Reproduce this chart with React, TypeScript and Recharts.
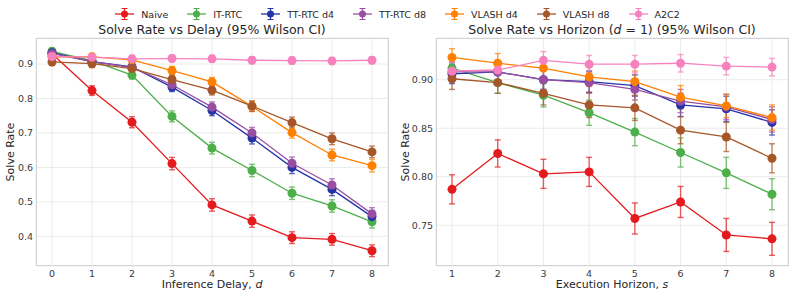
import { LineChart, Line, XAxis, YAxis, CartesianGrid, ErrorBar } from 'recharts';

// method names + colours
const methods = ['Naive', 'IT-RTC', 'TT-RTC d4', 'TT-RTC d8', 'VLASH d4', 'VLASH d8', 'A2C2'];
const keys = ['naive', 'itrtc', 'ttd4', 'ttd8', 'vlashd4', 'vlashd8', 'a2c2'];
const colors = ['#e41a1c', '#4daf4a', '#2532a8', '#984ea3', '#ff7f00', '#a65628', '#f781bf'];

// left panel: solve rate vs inference delay
const delays = [0, 1, 2, 3, 4, 5, 6, 7, 8];
const delayNaive = [0.930, 0.823, 0.731, 0.611, 0.491, 0.444, 0.396, 0.391, 0.358];
const delayItrtc = [0.937, 0.910, 0.868, 0.748, 0.656, 0.591, 0.525, 0.488, 0.442];
const delayTtd4 = [0.933, 0.907, 0.892, 0.833, 0.765, 0.685, 0.600, 0.536, 0.457];
const delayTtd8 = [0.930, 0.907, 0.890, 0.840, 0.775, 0.700, 0.612, 0.549, 0.465];
const delayVlashd4 = [0.921, 0.921, 0.912, 0.881, 0.848, 0.777, 0.701, 0.636, 0.605];
const delayVlashd8 = [0.906, 0.901, 0.887, 0.855, 0.824, 0.778, 0.730, 0.683, 0.645];
const delayA2c2 = [0.922, 0.920, 0.915, 0.916, 0.915, 0.911, 0.910, 0.909, 0.911];

// 95% CI half widths (left)
const delayNaiveErr = [0.009, 0.014, 0.016, 0.018, 0.018, 0.018, 0.017, 0.017, 0.017];
const delayItrtcErr = [0.009, 0.010, 0.012, 0.016, 0.017, 0.018, 0.018, 0.018, 0.018];
const delayTtd4Err = [0.009, 0.010, 0.011, 0.013, 0.015, 0.017, 0.018, 0.018, 0.018];
const delayTtd8Err = [0.009, 0.010, 0.011, 0.013, 0.015, 0.016, 0.018, 0.018, 0.018];
const delayVlashd4Err = [0.010, 0.010, 0.010, 0.012, 0.013, 0.015, 0.016, 0.017, 0.018];
const delayVlashd8Err = [0.010, 0.011, 0.011, 0.013, 0.014, 0.015, 0.016, 0.017, 0.017];
const delayA2c2Err = [0.009, 0.009, 0.010, 0.010, 0.010, 0.010, 0.010, 0.010, 0.010];

// right panel: solve rate vs execution horizon (d = 1)
const horizons = [1, 2, 3, 4, 5, 6, 7, 8];
const horNaive = [0.787, 0.824, 0.803, 0.805, 0.757, 0.774, 0.740, 0.736];
const horItrtc = [0.912, 0.897, 0.884, 0.866, 0.846, 0.825, 0.804, 0.782];
const horTtd4 = [0.906, 0.908, 0.900, 0.898, 0.894, 0.874, 0.870, 0.856];
const horTtd8 = [0.908, 0.908, 0.900, 0.897, 0.890, 0.878, 0.872, 0.859];
const horVlashd4 = [0.923, 0.917, 0.912, 0.903, 0.898, 0.882, 0.873, 0.861];
const horVlashd8 = [0.901, 0.897, 0.886, 0.874, 0.871, 0.848, 0.841, 0.819];
const horA2c2 = [0.909, 0.910, 0.920, 0.916, 0.916, 0.917, 0.914, 0.913];

const horNaiveErr = [0.015, 0.014, 0.015, 0.015, 0.016, 0.016, 0.017, 0.017];
const horItrtcErr = [0.010, 0.011, 0.012, 0.013, 0.014, 0.015, 0.016, 0.016];
const horTtd4Err = [0.010, 0.010, 0.010, 0.011, 0.011, 0.012, 0.013, 0.013];
const horTtd8Err = [0.010, 0.010, 0.010, 0.011, 0.011, 0.012, 0.013, 0.013];
const horVlashd4Err = [0.009, 0.010, 0.010, 0.010, 0.011, 0.012, 0.012, 0.013];
const horVlashd8Err = [0.011, 0.011, 0.012, 0.013, 0.013, 0.014, 0.015, 0.015];
const horA2c2Err = [0.010, 0.010, 0.009, 0.009, 0.009, 0.009, 0.009, 0.009];

const delayTicks = [0, 1, 2, 3, 4, 5, 6, 7, 8];
const delayYTicks = [0.4, 0.5, 0.6, 0.7, 0.8, 0.9];
const horYTicks = [0.75, 0.8, 0.85, 0.9];

const delaySeries = [delayNaive, delayItrtc, delayTtd4, delayTtd8, delayVlashd4, delayVlashd8, delayA2c2];
const delayErrs = [delayNaiveErr, delayItrtcErr, delayTtd4Err, delayTtd8Err, delayVlashd4Err, delayVlashd8Err, delayA2c2Err];
const horSeries = [horNaive, horItrtc, horTtd4, horTtd8, horVlashd4, horVlashd8, horA2c2];
const horErrs = [horNaiveErr, horItrtcErr, horTtd4Err, horTtd8Err, horVlashd4Err, horVlashd8Err, horA2c2Err];

function buildRows(xs: number[], series: number[][], errs: number[][]) {
  return xs.map((x, i) => {
    const row: Record<string, number> = { x };
    keys.forEach((k, j) => {
      row[k] = series[j][i];
      row[k + 'Err'] = errs[j][i];
    });
    return row;
  });
}

const delayData = buildRows(delays, delaySeries, delayErrs);
const horData = buildRows(horizons, horSeries, horErrs);

const FONT = '"DejaVu Sans", sans-serif';
const tickStyle = { fontSize: 9.5, fill: '#3a3a3a', fontFamily: FONT };

function renderLines() {
  return keys.map((k, i) => (
    <Line
      key={k}
      dataKey={k}
      type="linear"
      stroke={colors[i]}
      strokeWidth={1.3}
      dot={{ r: 4.5, fill: colors[i], stroke: colors[i], strokeWidth: 0 }}
      isAnimationActive={false}
    >
      <ErrorBar dataKey={k + 'Err'} direction="y" width={3} stroke={colors[i]} strokeWidth={1.4} strokeOpacity={0.7} />
    </Line>
  ));
}

function LegendMarker({ color }: { color: string }) {
  return (
    <svg width={19} height={12} style={{ display: 'block' }}>
      <line x1={0} y1={6} x2={19} y2={6} stroke={color} strokeWidth={1.3} />
      <line x1={9.5} y1={0.5} x2={9.5} y2={11.5} stroke={color} strokeWidth={1.2} />
      <line x1={6.5} y1={0.5} x2={12.5} y2={0.5} stroke={color} strokeWidth={1} />
      <line x1={6.5} y1={11.5} x2={12.5} y2={11.5} stroke={color} strokeWidth={1} />
      <circle cx={9.5} cy={6} r={3.5} fill={color} />
    </svg>
  );
}

const frameStyle = (left: number, width: number): React.CSSProperties => ({
  position: 'absolute',
  left,
  top: 38,
  width,
  height: 228,
  border: '1px solid #d4d4d4',
  boxSizing: 'border-box',
  pointerEvents: 'none',
});

export default function App() {
  return (
    <div style={{ position: 'absolute', left: 0, top: 0, width: 795, height: 298, background: '#fff', fontFamily: FONT, color: '#262626' }}>
      {/* legend */}
      <div style={{ position: 'absolute', left: 0, top: 8, width: 795, display: 'flex', justifyContent: 'center', alignItems: 'center', fontSize: 9.5 }}>
        {methods.map((m, i) => (
          <div key={m} style={{ display: 'flex', alignItems: 'center', marginLeft: i === 0 ? 0 : 19 }}>
            <LegendMarker color={colors[i]} />
            <span style={{ marginLeft: 7 }}>{m}</span>
          </div>
        ))}
      </div>

      {/* left panel */}
      <div style={{ position: 'absolute', left: 36, width: 352, top: 22, textAlign: 'center', fontSize: 12.5 }}>
        Solve Rate vs Delay (95% Wilson CI)
      </div>
      <div style={{ position: 'absolute', left: 0, top: 0 }}>
        <LineChart width={400} height={298} data={delayData} margin={{ top: 38, right: 12, bottom: 0, left: 0 }}>
          <CartesianGrid stroke="#ebebeb" strokeWidth={1} />
          <XAxis
            dataKey="x"
            type="number"
            domain={[-0.4, 8.4]}
            ticks={delayTicks}
            height={32}
            axisLine={false}
            tickLine={false}
            tickSize={3}
            tick={tickStyle}
            tickMargin={1}
            allowDataOverflow
          />
          <YAxis
            type="number"
            domain={[0.3137, 0.9756]}
            ticks={delayYTicks}
            width={36}
            axisLine={false}
            tickLine={false}
            tickSize={2}
            tick={tickStyle}
            tickFormatter={(v: number) => v.toFixed(1)}
            tickMargin={1}
            allowDataOverflow
          />
          {renderLines()}
        </LineChart>
      </div>
      <div style={frameStyle(36, 353)} />
      <div style={{ position: 'absolute', left: 36, width: 352, top: 278, textAlign: 'center', fontSize: 11 }}>
        Inference Delay, <i>d</i>
      </div>
      <div style={{ position: 'absolute', left: 10, top: 152, transform: 'translate(-50%, -50%) rotate(-90deg)', fontSize: 11, whiteSpace: 'nowrap' }}>
        Solve Rate
      </div>

      {/* right panel */}
      <div style={{ position: 'absolute', left: 436, width: 352, top: 22, textAlign: 'center', fontSize: 12.5 }}>
        Solve Rate vs Horizon (<i>d</i> = 1) (95% Wilson CI)
      </div>
      <div style={{ position: 'absolute', left: 400, top: 0 }}>
        <LineChart width={395} height={298} data={horData} margin={{ top: 38, right: 7, bottom: 0, left: 0 }}>
          <CartesianGrid stroke="#ebebeb" strokeWidth={1} />
          <XAxis
            dataKey="x"
            type="number"
            domain={[0.65, 8.35]}
            ticks={horizons}
            height={32}
            axisLine={false}
            tickLine={false}
            tickSize={3}
            tick={tickStyle}
            tickMargin={1}
            allowDataOverflow
          />
          <YAxis
            type="number"
            domain={[0.708, 0.943]}
            ticks={horYTicks}
            width={36}
            axisLine={false}
            tickLine={false}
            tickSize={2}
            tick={tickStyle}
            tickFormatter={(v: number) => v.toFixed(2)}
            tickMargin={1}
            allowDataOverflow
          />
          {renderLines()}
        </LineChart>
      </div>
      <div style={frameStyle(436, 353)} />
      <div style={{ position: 'absolute', left: 436, width: 352, top: 278, textAlign: 'center', fontSize: 11 }}>
        Execution Horizon, <i>s</i>
      </div>
      <div style={{ position: 'absolute', left: 405, top: 152, transform: 'translate(-50%, -50%) rotate(-90deg)', fontSize: 11, whiteSpace: 'nowrap' }}>
        Solve Rate
      </div>
    </div>
  );
}
